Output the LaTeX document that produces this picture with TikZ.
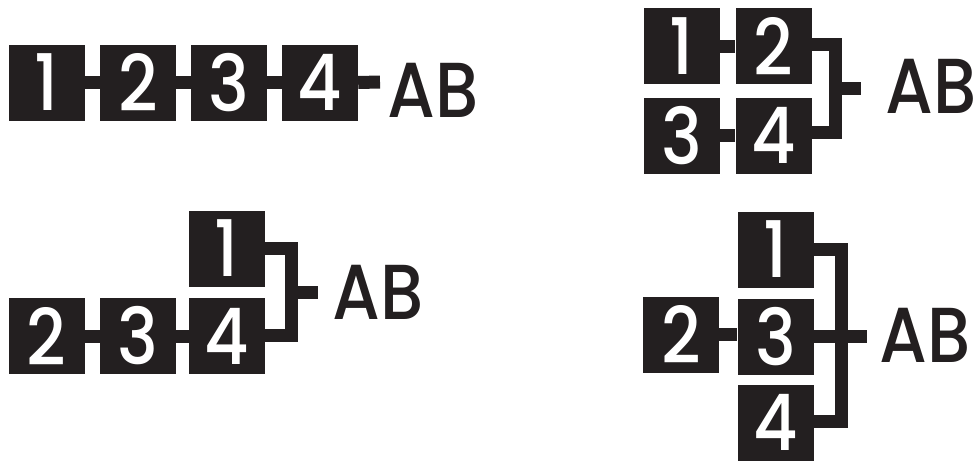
\documentclass[tikz,border=0pt]{standalone}
\usepackage{fontspec}
\setmainfont{Poppins}[UprightFont=* Medium, FakeStretch=0.88]
\definecolor{ink}{RGB}{35,31,32}
\tikzset{
  box/.style={fill=ink, draw=none, minimum width=76pt, minimum height=76pt, inner sep=0pt,
    text=white, font=\fontsize{78}{78}\selectfont},
  conn/.style={draw=ink, line width=13pt, line join=miter, line cap=butt},
  lab/.style={anchor=base west, inner sep=0pt, text=ink, font=\fontsize{78}{78}\selectfont}
}
\begin{document}
\begin{tikzpicture}[x=1pt,y=-1pt]
\useasboundingbox (0,0) rectangle (978,461);
% ---------- top left ----------
\node[box] (a1) at (46.5,82.5) {1};
\node[box] (a2) at (138,82.5) {2};
\node[box] (a3) at (229,82.5) {3};
\node[box] (a4) at (320,82.5) {4};
\coordinate (ae) at (380,82);
\node[lab] (aab) at (387,117) {AB};
\draw[conn] (a1) -- (a2);
\draw[conn] (a2) -- (a3);
\draw[conn] (a3) -- (a4);
\draw[conn] (a4.east) -- (ae);
% ---------- top right ----------
\node[box] (b1) at (681.5,46) {1};
\node[box] (b2) at (773.5,46) {2};
\node[box] (b3) at (681.5,135.5) {3};
\node[box] (b4) at (773.5,135.5) {4};
\coordinate (bv) at (835.5,88.5);
\coordinate (be) at (861,88.5);
\node[lab] (bab) at (885,113) {AB};
\draw[conn] (b1) -- (b2);
\draw[conn] (b3) -- (b4);
\draw[conn] ([yshift=2pt]b2.east) -| (835.5,132.5) -- ([yshift=3pt]b4.east);
\draw[conn] (bv) -- (be);
% ---------- bottom left ----------
\node[box] (c2) at (46.5,336) {2};
\node[box] (c3) at (138,336) {3};
\node[box] (c4) at (227,336) {4};
\node[box] (c1) at (227,248.5) {1};
\coordinate (cv) at (291.5,292.5);
\coordinate (ce) at (318,292.5);
\node[lab] (cab) at (332,319) {AB};
\draw[conn] (c2) -- (c3);
\draw[conn] (c3) -- (c4);
\draw[conn] (c1.east) -| (291.5,335.5) -- ([yshift=0.5pt]c4.east);
\draw[conn] (cv) -- (ce);
% ---------- bottom right ----------
\node[box] (d1) at (775.5,249.5) {1};
\node[box] (d2) at (681,334.5) {2};
\node[box] (d3) at (775.5,336.5) {3};
\node[box] (d4) at (775.5,422.5) {4};
\coordinate (de) at (867,336.5);
\node[lab] (dab) at (879,362) {AB};
\draw[conn] (d2.east) -- ([yshift=2pt]d3.west);
\draw[conn] (d1.east) -| (841,421.5) -- ([yshift=1pt]d4.east);
\draw[conn] (d3.east) -- (de);
\end{tikzpicture}
\end{document}
